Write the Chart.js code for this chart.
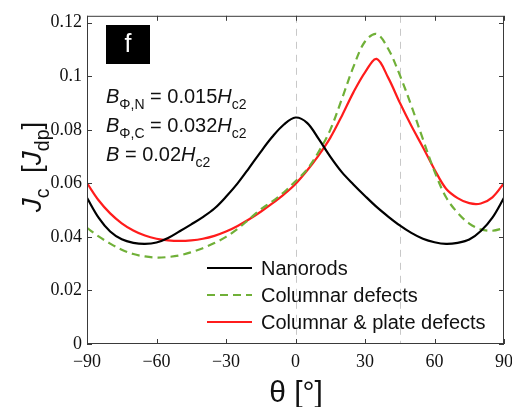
<!DOCTYPE html>
<html>
<head>
<meta charset="utf-8">
<script src="https://cdn.jsdelivr.net/npm/chart.js@4.4.1/dist/chart.umd.min.js"></script>
<style>
  html, body { margin: 0; padding: 0; background: #fff; }
  #wrap { width: 512px; height: 407px; }
</style>
</head>
<body>
<div id="wrap"><canvas id="jcChart" width="512" height="407"></canvas></div>
<script>
// angle of the applied field, degrees
const thetaDeg = [-90, -85, -80, -75, -70, -65, -60, -55, -50, -45, -40, -35, -30, -25, -20, -15, -10, -5,
                  0, 5, 10, 15, 20, 25, 30, 35, 40, 45, 50, 55, 60, 65, 70, 75, 80, 85, 90];

// critical current J_c in units of J_dp
const jcNanorods = [0.0546, 0.0472, 0.0420, 0.0391, 0.0378, 0.0374, 0.0379, 0.0396, 0.0421, 0.0447, 0.0474, 0.0506, 0.0550, 0.0600, 0.0658, 0.0718, 0.0774, 0.0820,
                    0.0846, 0.0826, 0.0766, 0.0700, 0.0642, 0.0596, 0.0553, 0.0512, 0.0476, 0.0443, 0.0415, 0.0393, 0.0380, 0.0374, 0.0378, 0.0390, 0.0422, 0.0472, 0.0546];
const jcColumnar = [0.0434, 0.0402, 0.0375, 0.0352, 0.0336, 0.0327, 0.0323, 0.0325, 0.0331, 0.0343, 0.0358, 0.0377, 0.0400, 0.0430, 0.0466, 0.0503, 0.0533, 0.0567,
                    0.0608, 0.0652, 0.0718, 0.0800, 0.0915, 0.1035, 0.1130, 0.1158, 0.1103, 0.1005, 0.0890, 0.0765, 0.0645, 0.0548, 0.0490, 0.0450, 0.0428, 0.0423, 0.0433];
const jcColPlate = [0.0601, 0.0537, 0.0488, 0.0451, 0.0424, 0.0405, 0.0393, 0.0387, 0.0385, 0.0387, 0.0393, 0.0404, 0.0420, 0.0441, 0.0466, 0.0494, 0.0525, 0.0559,
                    0.0598, 0.0648, 0.0705, 0.0770, 0.0852, 0.0940, 0.1015, 0.1065, 0.0995, 0.0902, 0.0815, 0.0735, 0.0652, 0.0580, 0.0545, 0.0526, 0.0525, 0.0548, 0.0601];

const seriesNames = ['Nanorods', 'Columnar defects', 'Columnar & plate defects'];
const xTicks = [-90, -60, -30, 0, 30, 60, 90];
const yTicks = [0, 0.02, 0.04, 0.06, 0.08, 0.1, 0.12];
const markerAngles = [0, 45];

const GREEN = 'rgb(112,176,56)';
const RED = 'rgb(255,28,28)';

function toPoints(vals) {
    return thetaDeg.map((t, i) => ({ x: t, y: vals[i] }));
}

function fmtTick(v) {
    if (v < 0) return '\u2212' + Math.abs(v);
    return String(Math.round(v * 1000) / 1000);
}

// draws a run of text pieces: {t, it (italic), sub (subscript)}
function drawRich(ctx, parts, x, y, size) {
    let cx = x;
    parts.forEach(p => {
        const s = p.sub ? size * 0.7 : size;
        ctx.font = (p.it ? 'italic ' : '') + s + 'px "Liberation Sans", Arial, sans-serif';
        ctx.fillText(p.t, cx, y + (p.sub ? size * 0.28 : 0));
        cx += ctx.measureText(p.t).width;
    });
    return cx;
}

const framePlugin = {
    id: 'frame',
    beforeDatasetsDraw(chart) {
        const ctx = chart.ctx;
        const area = chart.chartArea;
        const xs = chart.scales.x;
        ctx.save();
        ctx.strokeStyle = '#c8c8c8';
        ctx.lineWidth = 1;
        ctx.setLineDash([7, 6]);
        markerAngles.forEach(a => {
            const px = Math.round(xs.getPixelForValue(a)) + 0.5;
            ctx.beginPath();
            ctx.moveTo(px, area.top);
            ctx.lineTo(px, area.bottom);
            ctx.stroke();
        });
        ctx.restore();
    },
    afterDraw(chart) {
        const ctx = chart.ctx;
        const area = chart.chartArea;
        const xs = chart.scales.x;
        const ys = chart.scales.y;
        ctx.save();

        // axes box with inward ticks
        ctx.strokeStyle = '#3a3a3a';
        ctx.lineWidth = 1;
        ctx.strokeRect(area.left + 0.5, area.top + 0.5, area.right - area.left - 1, area.bottom - area.top - 1);
        const tl = 5;
        ctx.beginPath();
        xTicks.forEach(v => {
            const px = Math.round(xs.getPixelForValue(v)) + 0.5;
            ctx.moveTo(px, area.bottom); ctx.lineTo(px, area.bottom - tl);
            ctx.moveTo(px, area.top); ctx.lineTo(px, area.top + tl);
        });
        yTicks.forEach(v => {
            const py = Math.round(ys.getPixelForValue(v)) + 0.5;
            ctx.moveTo(area.left, py); ctx.lineTo(area.left + tl, py);
            ctx.moveTo(area.right, py); ctx.lineTo(area.right - tl, py);
        });
        ctx.stroke();

        // panel letter
        ctx.fillStyle = '#000';
        ctx.fillRect(106, 25, 44, 39);
        ctx.fillStyle = '#fff';
        ctx.font = '25px "Liberation Sans", Arial, sans-serif';
        ctx.textAlign = 'center';
        ctx.textBaseline = 'middle';
        ctx.fillText('f', 128, 45);

        // field parameters
        ctx.fillStyle = '#111';
        ctx.textAlign = 'left';
        ctx.textBaseline = 'alphabetic';
        const ax = 106;
        drawRich(ctx, [{ t: 'B', it: true }, { t: '\u03A6,N', sub: true }, { t: ' = 0.015' }, { t: 'H', it: true }, { t: 'c2', sub: true }], ax, 103, 20);
        drawRich(ctx, [{ t: 'B', it: true }, { t: '\u03A6,C', sub: true }, { t: ' = 0.032' }, { t: 'H', it: true }, { t: 'c2', sub: true }], ax, 132, 20);
        drawRich(ctx, [{ t: 'B', it: true }, { t: ' = 0.02' }, { t: 'H', it: true }, { t: 'c2', sub: true }], ax, 161, 20);

        // legend
        const rows = [268, 295, 322];
        chart.data.datasets.forEach((ds, i) => {
            ctx.strokeStyle = ds.borderColor;
            ctx.lineWidth = ds.borderWidth;
            ctx.setLineDash(ds.borderDash || []);
            ctx.beginPath();
            ctx.moveTo(207, rows[i]);
            ctx.lineTo(252, rows[i]);
            ctx.stroke();
            ctx.setLineDash([]);
            ctx.fillStyle = '#111';
            ctx.font = '20px "Liberation Sans", Arial, sans-serif';
            ctx.textBaseline = 'middle';
            ctx.fillText(ds.label, 261, rows[i] + 1);
        });

        // y axis title
        ctx.save();
        ctx.translate(41, 167);
        ctx.rotate(-Math.PI / 2);
        ctx.textBaseline = 'alphabetic';
        ctx.fillStyle = '#111';
        const parts = [{ t: 'J', it: true }, { t: 'c', sub: true }, { t: '  [' }, { t: 'J', it: true }, { t: 'dp', sub: true }, { t: ']' }];
        let w = 0;
        parts.forEach(p => {
            ctx.font = (p.it ? 'italic ' : '') + (p.sub ? 19.6 : 28) + 'px "Liberation Sans", Arial, sans-serif';
            w += ctx.measureText(p.t).width;
        });
        drawRich(ctx, parts, -w / 2, 0, 28);
        ctx.restore();

        // x axis title
        ctx.fillStyle = '#111';
        ctx.font = '30px "Liberation Sans", Arial, sans-serif';
        ctx.textAlign = 'center';
        ctx.textBaseline = 'alphabetic';
        ctx.fillText('\u03B8 [\u00B0]', 296, 402);

        ctx.restore();
    }
};

new Chart(document.getElementById('jcChart'), {
    type: 'line',
    data: {
        datasets: [
            {
                label: seriesNames[0],
                data: toPoints(jcNanorods),
                borderColor: '#000',
                borderWidth: 2.2
            },
            {
                label: seriesNames[1],
                data: toPoints(jcColumnar),
                borderColor: GREEN,
                borderWidth: 2.2,
                borderDash: [8, 5]
            },
            {
                label: seriesNames[2],
                data: toPoints(jcColPlate),
                borderColor: RED,
                borderWidth: 2.2
            }
        ]
    },
    options: {
        responsive: false,
        animation: false,
        layout: { padding: { top: 13, right: 8, left: 0, bottom: 0 } },
        elements: {
            point: { radius: 0 },
            line: { tension: 0.35, fill: false }
        },
        plugins: {
            legend: { display: false },
            tooltip: { enabled: false }
        },
        scales: {
            x: {
                type: 'linear',
                min: -90,
                max: 90,
                grid: { display: false, drawTicks: false },
                border: { display: false },
                afterFit: s => {
                    s.height = 63;
                    // the end labels may overhang the plot box
                    s.paddingLeft = 0;
                    s.paddingRight = 0;
                },
                afterBuildTicks: s => { s.ticks = xTicks.map(v => ({ value: v })); },
                ticks: {
                    padding: 7,
                    color: '#111',
                    font: { family: '"Liberation Serif", "Times New Roman", serif', size: 18 },
                    callback: v => fmtTick(v)
                }
            },
            y: {
                min: 0,
                max: 0.1226,
                grid: { display: false, drawTicks: false },
                border: { display: false },
                afterFit: s => { s.width = 87; },
                afterBuildTicks: s => { s.ticks = yTicks.map(v => ({ value: v })); },
                ticks: {
                    padding: 5,
                    color: '#111',
                    font: { family: '"Liberation Serif", "Times New Roman", serif', size: 18 },
                    callback: v => fmtTick(v)
                }
            }
        }
    },
    plugins: [framePlugin]
});
</script>
</body>
</html>
